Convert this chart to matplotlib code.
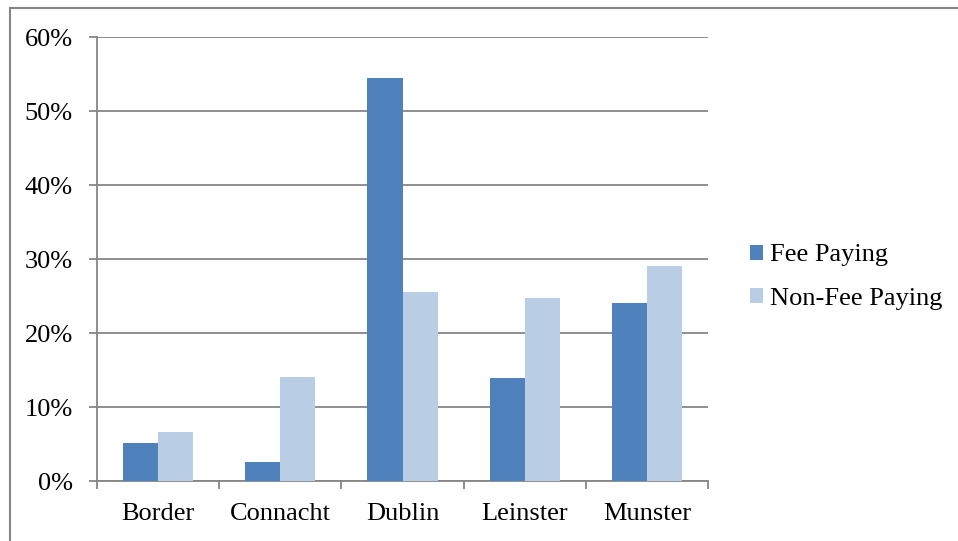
import matplotlib.pyplot as plt
import numpy as np
from matplotlib.patches import Rectangle

# Data
regions = ['Border', 'Connacht', 'Dublin', 'Leinster', 'Munster']
fee_paying = [5.1, 2.6, 54.5, 13.9, 24.0]
non_fee_paying = [6.6, 14.0, 25.5, 24.7, 29.1]
y_ticks = [0, 10, 20, 30, 40, 50, 60]

plt.rcParams['font.family'] = ['Liberation Serif', 'DejaVu Serif']

fig = plt.figure(figsize=(9.58, 5.41), dpi=100)
ax = fig.add_axes([97 / 958, 1 - 481 / 541, 611 / 958, 444 / 541])

x = np.arange(len(regions))
w = 0.287
ax.bar(x - w / 2, fee_paying, w, color='#4F81BD', label='Fee Paying', zorder=3)
ax.bar(x + w / 2, non_fee_paying, w, color='#B9CDE5', label='Non-Fee Paying', zorder=3)

ax.set_xlim(-0.5, len(regions) - 0.5)
ax.set_ylim(0, 60)
ax.set_yticks(y_ticks)
ax.set_yticklabels(['{}%'.format(t) for t in y_ticks])
ax.yaxis.grid(True, color='#868686', linewidth=1.3, zorder=0)

# category labels in the middle, tick marks at the boundaries
ax.set_xticks(x)
ax.set_xticklabels(regions)
ax.set_xticks(np.arange(len(regions) + 1) - 0.5, minor=True)
ax.tick_params(axis='x', which='major', length=0, pad=16, labelsize=19)
ax.tick_params(axis='x', which='minor', length=6, width=1.3, color='#868686', direction='out')
ax.tick_params(axis='y', length=6, width=1.3, color='#868686', pad=11.5, labelsize=19)

for side in ['top', 'right']:
    ax.spines[side].set_visible(False)
for side in ['left', 'bottom']:
    ax.spines[side].set_color('#868686')
    ax.spines[side].set_linewidth(1.3)

ax.legend(loc='center left', bbox_to_anchor=(750 / 958, 1 - 277 / 541),
          bbox_transform=fig.transFigure, frameon=False, fontsize=19,
          handlelength=0.5, handleheight=0.5, handletextpad=0.25,
          labelspacing=0.8, borderaxespad=0, borderpad=0)

# outer chart frame
fig.patches.append(Rectangle((10 / 958, -0.05), 1.1, 1 - 8 / 541 + 0.05,
                             transform=fig.transFigure, fill=False,
                             edgecolor='#868686', linewidth=1.5))

plt.savefig('out.png', dpi=100)
